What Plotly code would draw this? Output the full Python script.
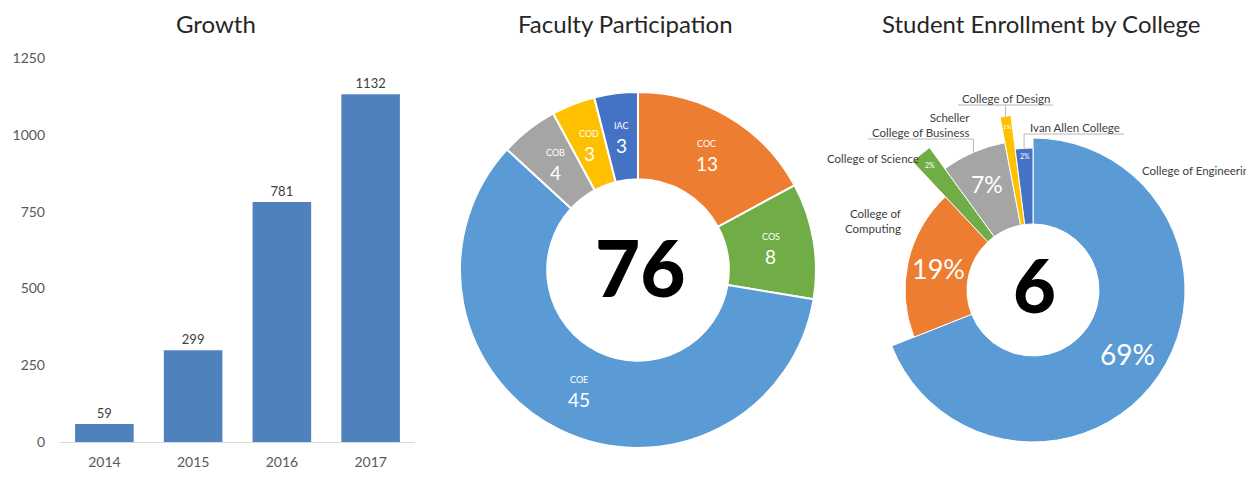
import math
import plotly.graph_objects as go

# ---------------- data ----------------
years = ["2014", "2015", "2016", "2017"]
growth = [59, 299, 781, 1132]
growth_ticks = [0, 250, 500, 750, 1000, 1250]

fac_codes = ["COC", "COS", "COE", "COB", "COD", "IAC"]
fac_counts = [13, 8, 45, 4, 3, 3]

col_names = ["College of Engineering", "College of Computing", "College of Science",
             "Scheller College of Business", "College of Design", "Ivan Allen College"]
col_pct = [69, 19, 2, 7, 1, 2]

titles = ["Growth", "Faculty Participation", "Student Enrollment by College"]

# ---------------- styles ----------------
W, H = 1254, 478
OFF = 8  # page body margin in the browser
FONT = "Lato"
fac_colors = ["#ED7D31", "#70AD47", "#5B9BD5", "#A5A5A5", "#FFC000", "#4472C4"]
col_colors = ["#5B9BD5", "#ED7D31", "#70AD47", "#A5A5A5", "#FFC000", "#4472C4"]
ring_outer_px = [152, 128, 176, 150, 176, 142]   # visual outer radius of each wedge
ring_label_px = [114, 97, 162, 116, 166, 134]    # radius where each % label sits
ring_label_size = [28, 27, 7, 23, 6, 7]
# labels outside the enrollment ring: (text, x, y, xanchor)
out_labels = [
    ("College of Engineering", 1140, 171, "left"),
    ("College of<br>Computing", 903, 221, "right"),
    ("College of Science", 921, 159, "right"),
    ("Scheller<br>College of Business", 972, 125, "right"),
    ("College of Design", 1006, 98, "center"),
    ("Ivan Allen College", 1028, 127, "left"),
]
# leader underline spans (x0, x1, y) for labels that have them, by wedge index
leaders = {3: (868, 973, 139), 4: (958, 1053, 105), 5: (1024, 1124, 134)}


def px(x):
    return (x - OFF) / W


def py(y):
    return 1 - (y - OFF) / H


def polar_pt(cx, cy, ang, r):
    a = math.radians(ang)
    return cx + r * math.sin(a), cy - r * math.cos(a)


def note(x, y, text, size, color, xanchor="center", weight=None, yshift=0, align="center"):
    f = dict(size=size, color=color, family=FONT)
    if weight:
        f["weight"] = weight
    return dict(x=px(x), y=py(y), xref="paper", yref="paper", text=text, showarrow=False,
                xanchor=xanchor, yanchor="middle", yshift=yshift, align=align, font=f)


fig = go.Figure()

# ---------------- Growth bar chart ----------------
fig.add_trace(go.Bar(
    x=years, y=growth, marker=dict(color="#4F81BD", line=dict(width=0)),
    width=0.66, text=growth, textposition="outside", cliponaxis=False,
    textfont=dict(size=13, color="#404040", family=FONT),
    xaxis="x", yaxis="y", showlegend=False, hoverinfo="x+y",
))

# ---------------- Faculty donut ----------------
cx1, cy1, R1 = 638, 270, 178
hole1 = 0.51
fig.add_trace(go.Pie(
    values=fac_counts, labels=fac_codes, sort=False, direction="clockwise",
    rotation=0, hole=hole1, textinfo="none",
    marker=dict(colors=fac_colors, line=dict(color="white", width=2)),
    domain=dict(x=[px(cx1 - R1), px(cx1 + R1)], y=[py(cy1 + R1), py(cy1 - R1)]),
    showlegend=False,
))

annotations = []
total = sum(fac_counts)
cum = 0
rmid1 = (R1 + R1 * hole1) / 2
for code, v in zip(fac_codes, fac_counts):
    ang = (cum + v / 2) / total * 360
    cum += v
    x, y = polar_pt(cx1, cy1, ang, rmid1)
    annotations.append(note(x, y, code, 9, "white", yshift=11))
    annotations.append(note(x, y, str(v), 19, "white", yshift=-9))
annotations.append(note(640, 267, str(total), 78, "black", weight=900))

# ---------------- Enrollment ring (variable radius) ----------------
cx2, cy2, R2 = 1033, 290, 180
hole2 = 66
thetas, widths = [], []
cum = 0
for p in col_pct:
    thetas.append((cum + p / 2) * 3.6)
    widths.append(p * 3.6)
    cum += p
fig.add_trace(go.Barpolar(
    r=[o - hole2 for o in ring_outer_px], base=hole2, theta=thetas, width=widths,
    marker=dict(color=col_colors, line=dict(color="white", width=1)),
    subplot="polar", showlegend=False, hoverinfo="skip",
))
for i, p in enumerate(col_pct):
    x, y = polar_pt(cx2, cy2, thetas[i], ring_label_px[i])
    annotations.append(note(x, y, f"{p}%", ring_label_size[i], "white"))
annotations.append(note(1034, 284, str(len(col_pct)), 74, "black", weight=900))
for text, x, y, xa in out_labels:
    annotations.append(note(x, y, text, 11.5, "#404040", xanchor=xa,
                            align=xa if xa != "center" else "center"))

shapes = []
for i, (x0, x1, yl) in leaders.items():
    tx, ty = polar_pt(cx2, cy2, thetas[i], ring_outer_px[i])
    shapes.append(dict(type="line", xref="paper", yref="paper", x0=px(x0), x1=px(x1),
                       y0=py(yl), y1=py(yl), line=dict(color="#A6A6A6", width=0.8)))
    shapes.append(dict(type="line", xref="paper", yref="paper", x0=px(tx), x1=px(tx),
                       y0=py(yl), y1=py(ty), line=dict(color="#A6A6A6", width=0.8)))

# ---------------- titles ----------------
for t, x in zip(titles, [216, 625, 1041]):
    annotations.append(note(x, 24, t, 24, "#262626"))

fig.update_layout(
    width=W, height=H, margin=dict(l=0, r=0, t=0, b=0, autoexpand=False),
    paper_bgcolor="white", plot_bgcolor="white",
    font=dict(family=FONT, color="#595959"),
    xaxis=dict(domain=[px(60), px(415)], range=[-0.5, 3.5], showline=True,
               linecolor="#D9D9D9", linewidth=1, ticks="", showgrid=False,
               ticklabelstandoff=7, automargin=False,
               tickfont=dict(size=14, color="#595959"), fixedrange=True),
    yaxis=dict(domain=[py(442), py(58)], range=[0, 1250], tickvals=growth_ticks,
               showgrid=False, zeroline=False, showline=False, ticks="", automargin=False,
               ticklabelstandoff=14, tickfont=dict(size=14, color="#595959")),
    polar=dict(domain=dict(x=[px(cx2 - R2), px(cx2 + R2)], y=[py(cy2 + R2), py(cy2 - R2)]),
               bgcolor="rgba(0,0,0,0)", bargap=0, hole=0,
               radialaxis=dict(range=[0, R2], visible=False),
               angularaxis=dict(direction="clockwise", rotation=90, visible=False)),
    annotations=annotations, shapes=shapes,
)

fig.write_html("out.html")
